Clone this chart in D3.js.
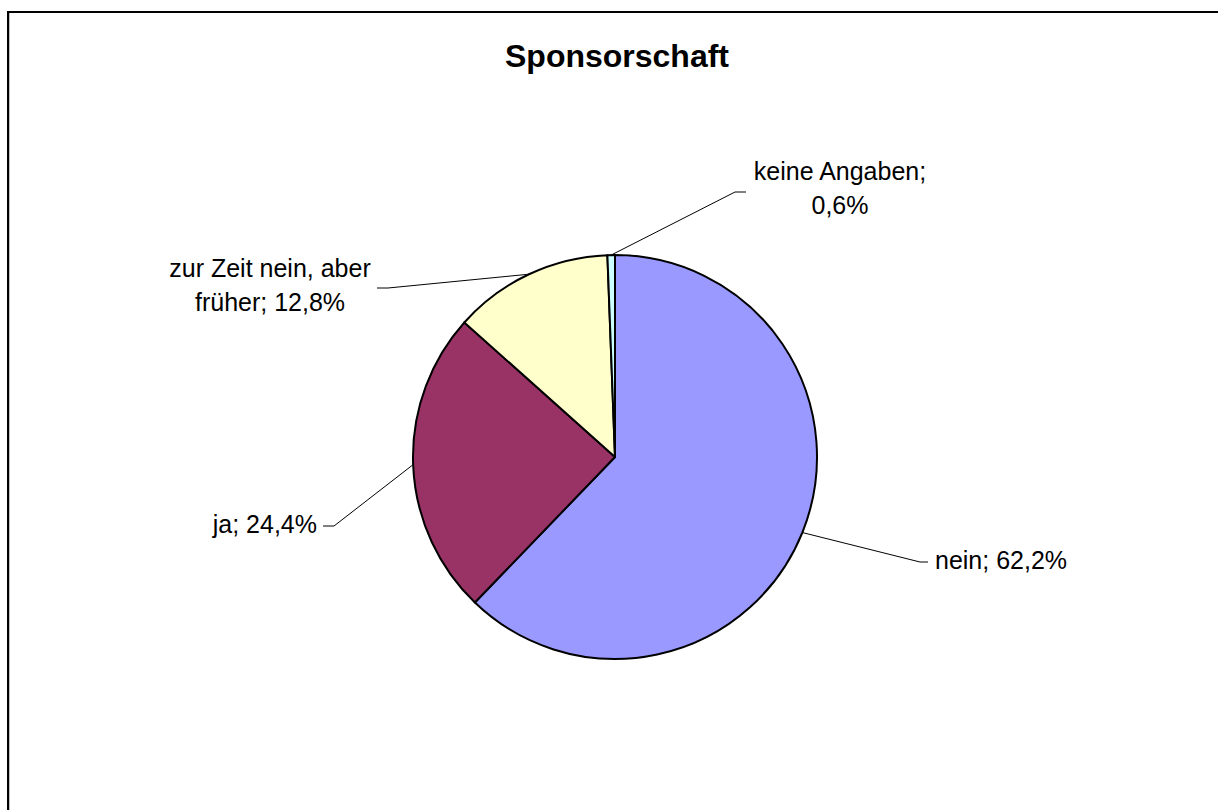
<!DOCTYPE html>
<html>
<head>
<meta charset="utf-8">
<script src="https://cdn.jsdelivr.net/npm/d3@7"></script>
<style>
  body { margin: 0; background: #fff; }
  svg { display: block; font-family: "Liberation Sans", Arial, sans-serif; }
</style>
</head>
<body>
<div id="chart"></div>
<script>
// data
var categories = ["nein", "ja", "zur Zeit nein, aber früher", "keine Angaben"];
var shares = [62.2, 24.4, 12.8, 0.6];
var colors = ["#9999FF", "#993366", "#FFFFCC", "#CCFFFF"];
// label lines as shown (Excel wraps the long ones)
var labelLines = [
  ["nein; 62,2%"],
  ["ja; 24,4%"],
  ["zur Zeit nein, aber", "früher; 12,8%"],
  ["keine Angaben;", "0,6%"]
];

var w = 1218, h = 810;
var cx = 615, cy = 457, r = 202;

// leader elbow / end and text placement, relative to the pie centre
var labelLayout = [
  {elbow: [305, 105], end: [313, 105], text: [320, 112], anchor: "start"},
  {elbow: [-281, 69], end: [-292, 69], text: [-298, 76], anchor: "end"},
  {elbow: [-227, -169], end: [-238, -169], text: [-345, -180], anchor: "middle"},
  {elbow: [120, -265], end: [131, -265], text: [225, -277], anchor: "middle"}
];

var svg = d3.select("#chart")
  .append("svg")
  .attr("width", w)
  .attr("height", h);

// frame (runs off the right and bottom of the picture)
svg.append("rect")
  .attr("x", 9.5).attr("y", 11.5)
  .attr("width", w + 20).attr("height", h + 20)
  .attr("fill", "none")
  .attr("stroke", "#c0c0c0")
  .attr("stroke-width", 1);
svg.append("rect")
  .attr("x", 8).attr("y", 12)
  .attr("width", w + 20).attr("height", h + 20)
  .attr("fill", "none")
  .attr("stroke", "#000")
  .attr("stroke-width", 2);

// title
svg.append("text")
  .attr("x", 617)
  .attr("y", 67)
  .attr("text-anchor", "middle")
  .style("font-size", "32px")
  .style("font-weight", "bold")
  .text("Sponsorschaft");

var data = categories.map(function(c, i) {
  return {name: c, value: shares[i], color: colors[i], lines: labelLines[i], layout: labelLayout[i]};
});

var pie = d3.pie()
  .sort(null)
  .value(function(d) { return d.value; });

var arc = d3.arc()
  .innerRadius(0)
  .outerRadius(r);

var g = svg.append("g")
  .attr("transform", "translate(" + cx + "," + cy + ")");

var arcs = pie(data);

g.selectAll("path.slice")
  .data(arcs)
  .enter()
  .append("path")
  .attr("class", "slice")
  .attr("d", arc)
  .attr("fill", function(d) { return d.data.color; })
  .attr("stroke", "#000")
  .attr("stroke-width", 2)
  .attr("stroke-linejoin", "round");

// leader lines from the middle of each slice's rim
g.selectAll("polyline.leader")
  .data(arcs)
  .enter()
  .append("polyline")
  .attr("class", "leader")
  .attr("points", function(d) {
    var a = (d.startAngle + d.endAngle) / 2;
    var p0 = [r * Math.sin(a), -r * Math.cos(a)];
    return [p0, d.data.layout.elbow, d.data.layout.end].map(function(p) { return p.join(","); }).join(" ");
  })
  .attr("fill", "none")
  .attr("stroke", "#000")
  .attr("stroke-width", 1);

// labels
var labels = g.selectAll("text.label")
  .data(arcs)
  .enter()
  .append("text")
  .attr("class", "label")
  .attr("x", function(d) { return d.data.layout.text[0]; })
  .attr("y", function(d) { return d.data.layout.text[1]; })
  .attr("text-anchor", function(d) { return d.data.layout.anchor; })
  .style("font-size", "25px")
  .attr("fill", "#000");

labels.selectAll("tspan")
  .data(function(d) {
    return d.data.lines.map(function(l) { return {line: l, x: d.data.layout.text[0]}; });
  })
  .enter()
  .append("tspan")
  .attr("x", function(d) { return d.x; })
  .attr("dy", function(d, i) { return i === 0 ? 0 : 34; })
  .text(function(d) { return d.line; });
</script>
</body>
</html>
